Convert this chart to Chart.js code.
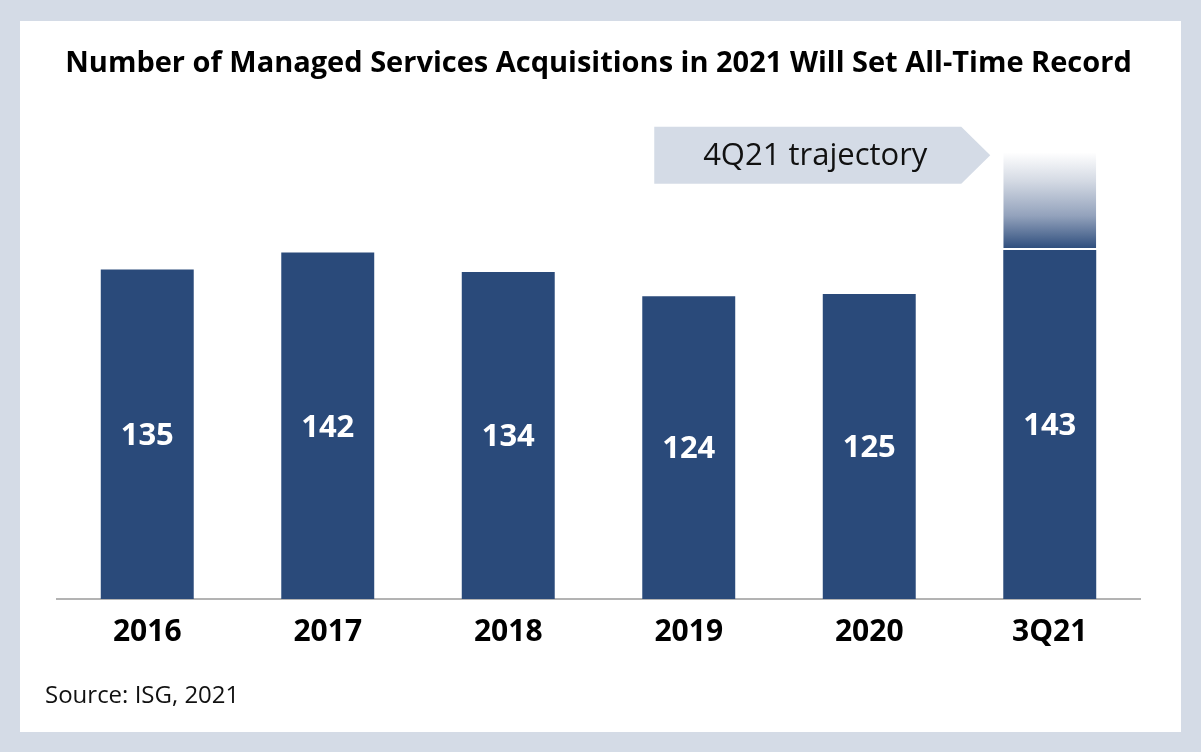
<!DOCTYPE html>
<html>
<head>
<meta charset="utf-8">
<script src="https://cdn.jsdelivr.net/npm/chart.js@4"></script>
<style>
  html, body { margin: 0; padding: 0; background: #d4dbe6; }
  #frame { position: absolute; left: 20px; top: 21px; width: 1161px; height: 711px; background: #fff; }
</style>
</head>
<body>
<div id="frame"><canvas id="myChart" width="1161" height="711"></canvas></div>
<script>
var categories = ["2016", "2017", "2018", "2019", "2020", "3Q21"];
var acquisitions = [135, 142, 134, 124, 125, 143];
var trajectory = [null, null, null, null, null, 40];
var barColor = "#2a4a7a";
var fontName = "'Open Sans', 'Noto Sans', sans-serif";

// white numbers in the middle of each real bar
var valueLabels = {
	id: "valueLabels",
	afterDatasetsDraw: function(chart) {
		var ctx = chart.ctx;
		var meta = chart.getDatasetMeta(0);
		ctx.save();
		ctx.fillStyle = "#fff";
		ctx.font = "bold 31px " + fontName;
		ctx.textAlign = "center";
		ctx.textBaseline = "middle";
		meta.data.forEach(function(bar, i) {
			ctx.fillText(acquisitions[i], bar.x, (bar.y + bar.base) / 2 + 2);
		});
		ctx.restore();
	}
};

// arrow callout and source line
var extras = {
	id: "extras",
	afterDraw: function(chart) {
		var ctx = chart.ctx;
		var bar = chart.getDatasetMeta(1).data[5];
		var tipX = bar.x - bar.width / 2 - 13;
		var midY = bar.y + 3;
		var h = 57;
		var left = tipX - 336;
		var bodyRight = tipX - 29;
		ctx.save();
		ctx.fillStyle = "#d4dbe6";
		ctx.beginPath();
		ctx.moveTo(left, midY - h / 2);
		ctx.lineTo(bodyRight, midY - h / 2);
		ctx.lineTo(tipX, midY);
		ctx.lineTo(bodyRight, midY + h / 2);
		ctx.lineTo(left, midY + h / 2);
		ctx.closePath();
		ctx.fill();
		ctx.fillStyle = "#111";
		ctx.font = "31px " + fontName;
		ctx.textAlign = "center";
		ctx.textBaseline = "middle";
		ctx.fillText("4Q21 trajectory", left + 161, midY + 1);

		ctx.textAlign = "left";
		ctx.font = "24px " + fontName;
		ctx.fillText("Source: ISG, 2021", 25, 675);
		ctx.restore();
	}
};

function fadeFill(context) {
	var chart = context.chart;
	if (!chart.chartArea) return barColor;
	var y = chart.scales.y;
	var top = y.getPixelForValue(acquisitions[5] + trajectory[5]);
	var bottom = y.getPixelForValue(acquisitions[5]);
	var g = chart.ctx.createLinearGradient(0, top, 0, bottom);
	g.addColorStop(0, "rgba(255,255,255,1)");
	g.addColorStop(0.3, "#d3d9e3");
	g.addColorStop(0.65, "#93a2bc");
	g.addColorStop(1, barColor);
	return g;
}

var ctx = document.getElementById("myChart").getContext("2d");
var chart = new Chart(ctx, {
	type: "bar",
	data: {
		labels: categories,
		datasets: [{
			data: acquisitions,
			backgroundColor: barColor,
			borderWidth: 0,
			categoryPercentage: 1,
			barPercentage: 0.515,
			stack: "s"
		}, {
			data: trajectory,
			backgroundColor: fadeFill,
			borderColor: "#fff",
			borderWidth: {bottom: 2, top: 0, left: 0, right: 0},
			borderSkipped: false,
			categoryPercentage: 1,
			barPercentage: 0.515,
			stack: "s"
		}]
	},
	options: {
		responsive: false,
		animation: false,
		layout: { padding: { left: 37, right: 41, top: 0, bottom: 67 } },
		plugins: {
			legend: { display: false },
			tooltip: { enabled: false },
			title: {
				display: true,
				text: "Number of Managed Services Acquisitions in 2021 Will Set All-Time Record",
				color: "#000",
				font: { family: fontName, size: 29, weight: "bold" },
				padding: { top: 25, bottom: 30 }
			}
		},
		scales: {
			x: {
				stacked: true,
				grid: { display: false, drawTicks: false },
				border: { display: true, color: "#b3b3b3", width: 2 },
				ticks: {
					color: "#000",
					padding: 15,
					font: { family: fontName, size: 30, weight: "bold" }
				}
			},
			y: {
				stacked: true,
				display: false,
				min: 0,
				max: 200
			}
		}
	},
	plugins: [valueLabels, extras]
});
</script>
</body>
</html>
